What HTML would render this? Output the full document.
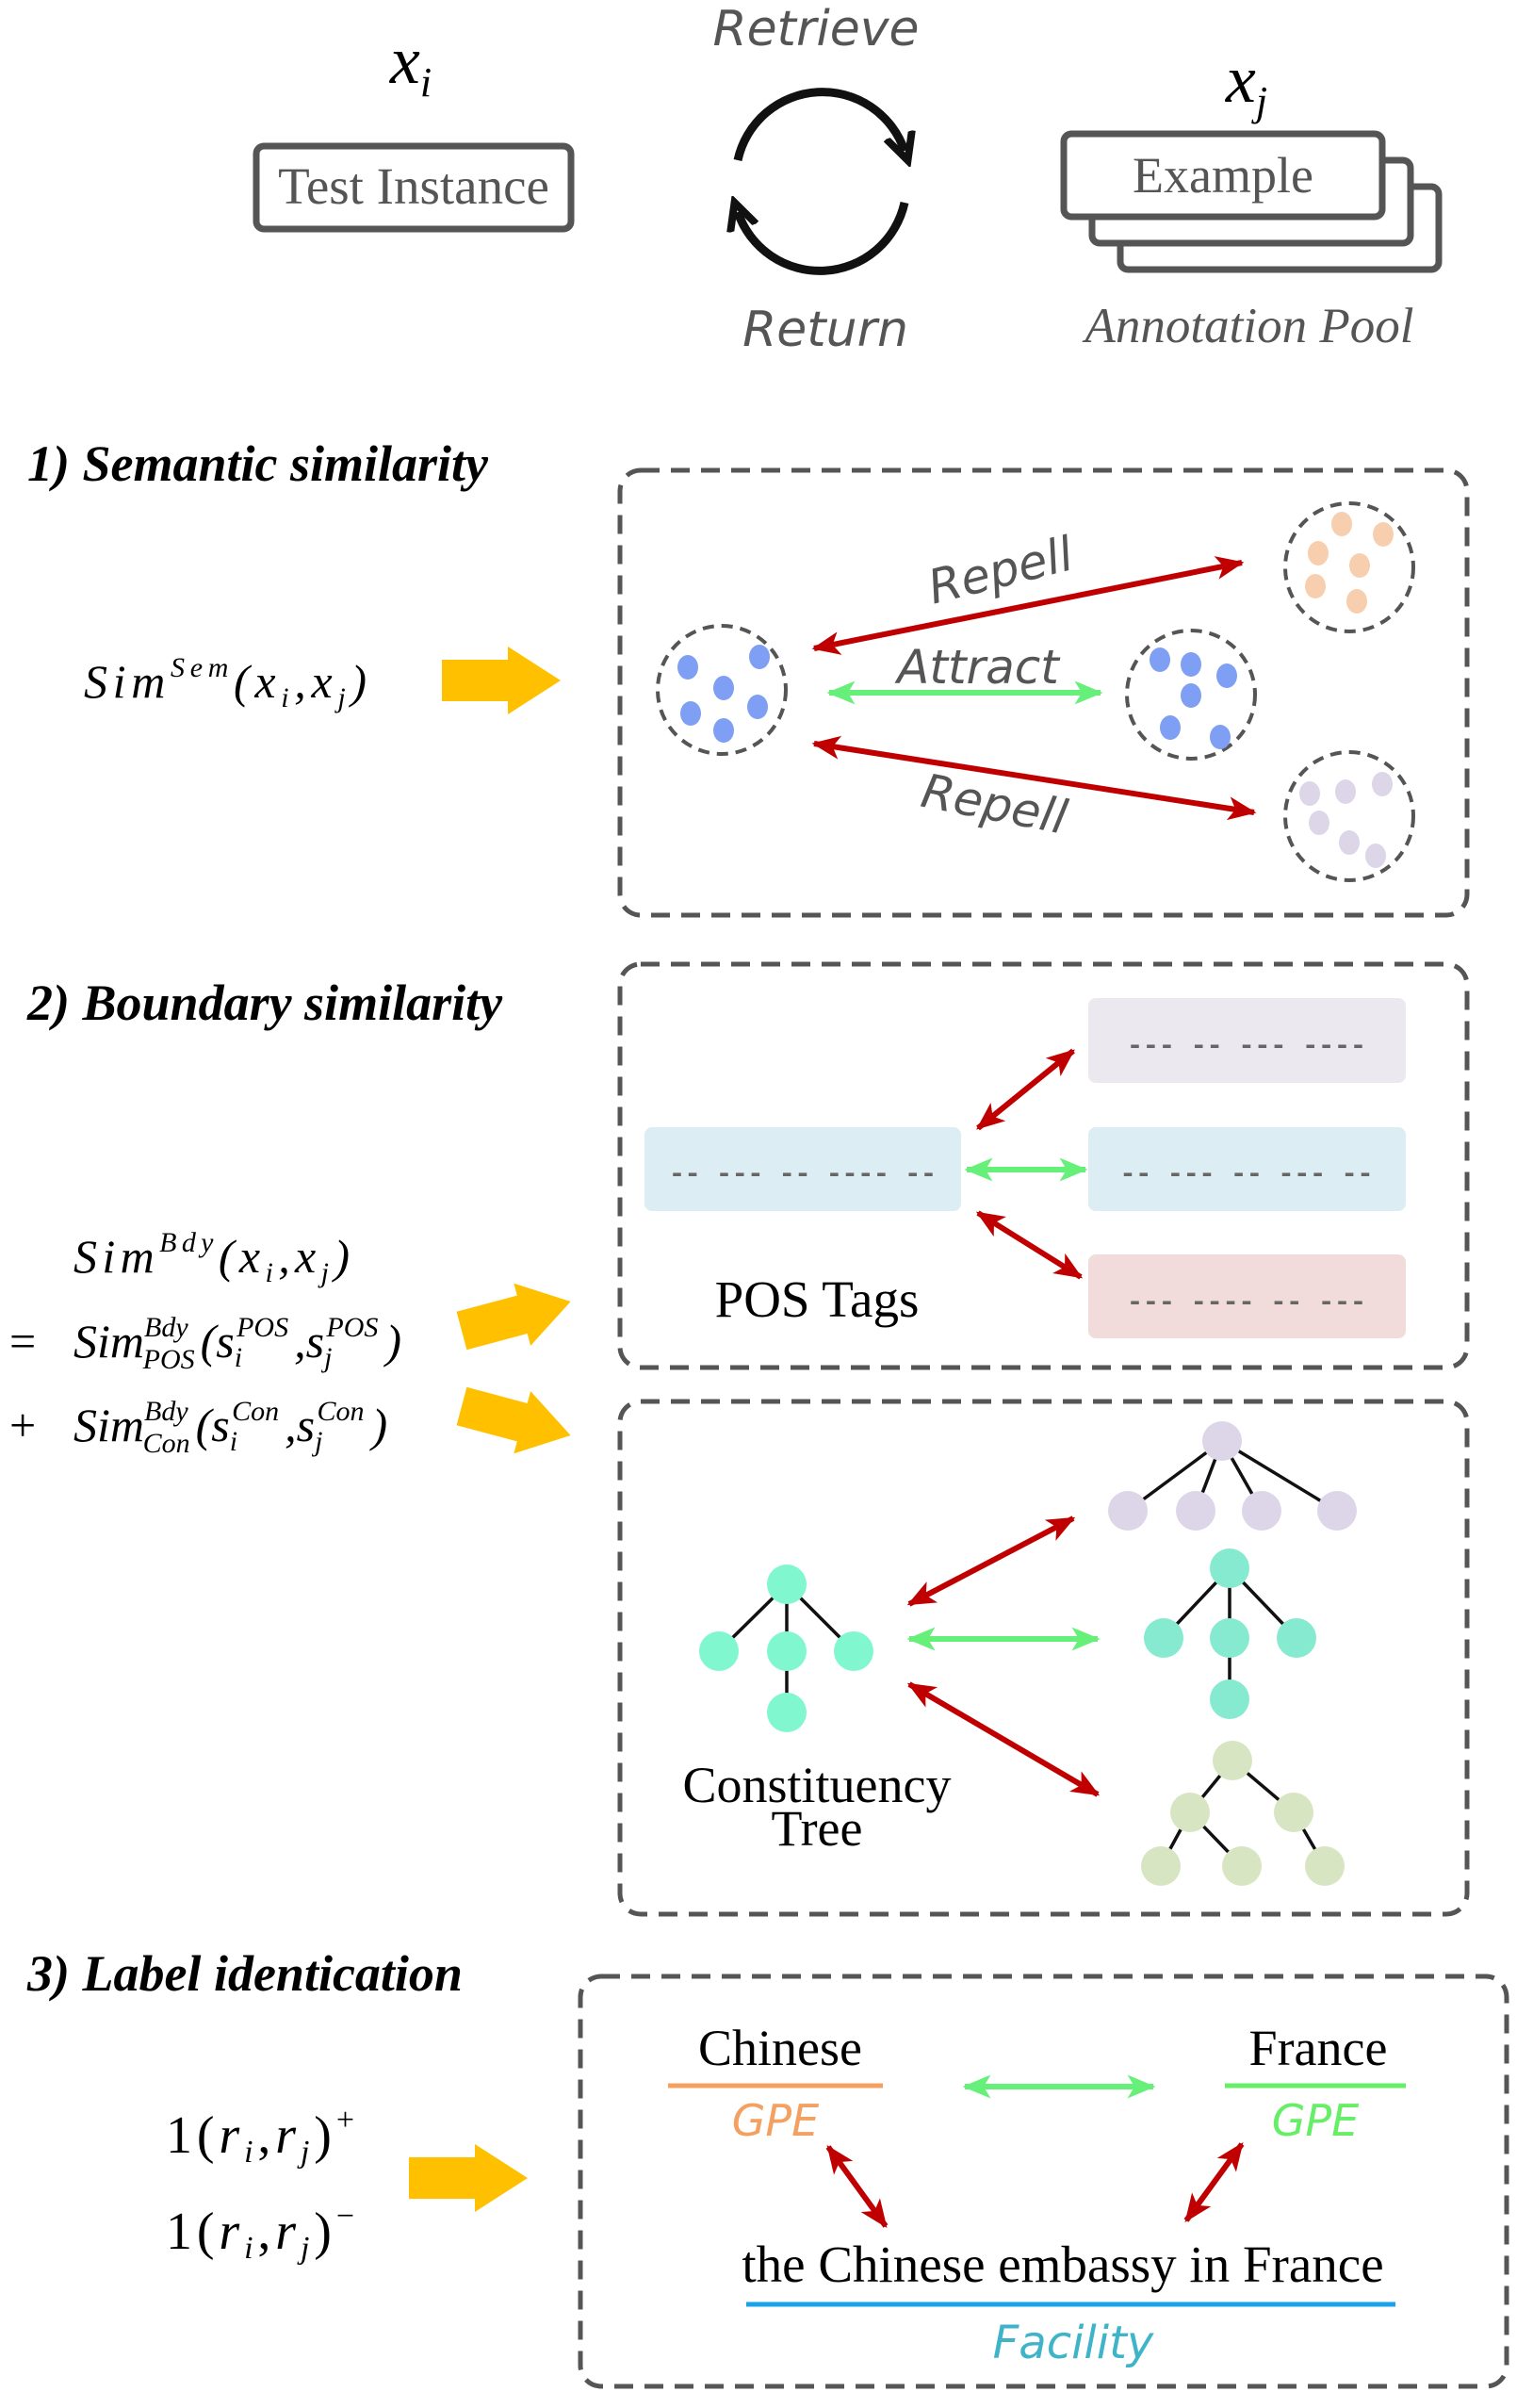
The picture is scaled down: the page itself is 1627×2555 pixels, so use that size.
<!DOCTYPE html>
<html><head><meta charset="utf-8"><style>
html,body{margin:0;padding:0;background:#fff;}
svg{display:block;}
.serif{font-family:"Liberation Serif",serif;}
.hand{font-family:"DejaVu Sans",sans-serif;font-style:oblique;}
</style></head><body>
<svg width="1627" height="2555" viewBox="0 0 1627 2555" xmlns="http://www.w3.org/2000/svg">
<defs>
<marker id="r" viewBox="0 0 12 10" refX="11" refY="5" markerWidth="5" markerHeight="5" orient="auto-start-reverse" markerUnits="strokeWidth"><path d="M0,0 L12,5 L0,10 L3,5 z" fill="#c00000"/></marker>
<marker id="g" viewBox="0 0 12 10" refX="11" refY="5" markerWidth="5" markerHeight="5" orient="auto-start-reverse" markerUnits="strokeWidth"><path d="M0,0 L12,5 L0,10 L3,5 z" fill="#66f07a"/></marker>
<marker id="k" viewBox="0 0 10 10" refX="5" refY="5" markerWidth="4" markerHeight="4" orient="auto" markerUnits="strokeWidth"><path d="M0,1 L8,5 L0,9" fill="none" stroke="#111" stroke-width="2.2"/></marker>
<path id="ya" d="M0,-22 L70,-22 L70,-36 L126,0 L70,36 L70,22 L0,22 z" fill="#ffc000"/>
</defs>

<!-- top -->
<text x="436" y="88" class="serif" font-size="72" font-style="italic" text-anchor="middle">x<tspan font-size="44" dy="14">i</tspan></text>
<rect x="272" y="155" width="334" height="88" rx="8" fill="#fff" stroke="#555" stroke-width="7"/>
<text x="439" y="216" class="serif" font-size="55" fill="#555" text-anchor="middle">Test Instance</text>

<text x="866" y="48" class="hand" font-size="52" fill="#555" text-anchor="middle">Retrieve</text>
<text x="876" y="367" class="hand" font-size="52" fill="#555" text-anchor="middle">Return</text>
<path d="M783,170 A92,92 0 0 1 960,160" fill="none" stroke="#111" stroke-width="9" marker-end="url(#k)"/>
<path d="M960,215 A92,92 0 0 1 783,225" fill="none" stroke="#111" stroke-width="9" marker-end="url(#k)"/>

<text x="1323" y="108" class="serif" font-size="72" font-style="italic" text-anchor="middle">x<tspan font-size="44" dy="14">j</tspan></text>
<rect x="1189" y="198" width="338" height="88" rx="8" fill="#fff" stroke="#555" stroke-width="7"/>
<rect x="1159" y="170" width="338" height="88" rx="8" fill="#fff" stroke="#555" stroke-width="7"/>
<rect x="1129" y="142" width="338" height="88" rx="8" fill="#fff" stroke="#555" stroke-width="7"/>
<text x="1298" y="204" class="serif" font-size="54" fill="#555" text-anchor="middle">Example</text>
<text x="1326" y="363" class="serif" font-size="53" font-style="italic" fill="#555" text-anchor="middle">Annotation Pool</text>

<!-- section 1 -->
<text x="29" y="510" class="serif" font-size="54" font-weight="bold" font-style="italic">1) Semantic similarity</text>
<rect x="658" y="499" width="899" height="472" rx="22" fill="none" stroke="#555" stroke-width="5" stroke-dasharray="20,12"/>
<text x="89" y="740" class="serif" font-size="50" font-style="italic" textLength="300" lengthAdjust="spacing">Sim<tspan font-size="30" dy="-22">Sem</tspan><tspan dy="22">(x</tspan><tspan font-size="30" dy="10">i</tspan><tspan dy="-10">,x</tspan><tspan font-size="30" dy="10">j</tspan><tspan dy="-10">)</tspan></text>
<use href="#ya" transform="translate(469,722)"/>

<g fill="none" stroke="#555" stroke-width="4" stroke-dasharray="12,8">
<circle cx="766" cy="732" r="68"/><circle cx="1264" cy="737" r="68"/><circle cx="1432" cy="602" r="68"/><circle cx="1432" cy="866" r="68"/>
</g>
<g fill="#7f9ff5"><ellipse cx="730" cy="708" rx="11" ry="13"/><ellipse cx="806" cy="697" rx="11" ry="13"/><ellipse cx="768" cy="730" rx="11" ry="13"/><ellipse cx="733" cy="757" rx="11" ry="13"/><ellipse cx="804" cy="750" rx="11" ry="13"/><ellipse cx="768" cy="775" rx="11" ry="13"/>
<ellipse cx="1231" cy="700" rx="11" ry="13"/><ellipse cx="1264" cy="705" rx="11" ry="13"/><ellipse cx="1302" cy="717" rx="11" ry="13"/><ellipse cx="1264" cy="738" rx="11" ry="13"/><ellipse cx="1242" cy="772" rx="11" ry="13"/><ellipse cx="1295" cy="782" rx="11" ry="13"/></g>
<g fill="#f8cfae"><ellipse cx="1424" cy="556" rx="11" ry="13"/><ellipse cx="1468" cy="567" rx="11" ry="13"/><ellipse cx="1399" cy="587" rx="11" ry="13"/><ellipse cx="1443" cy="600" rx="11" ry="13"/><ellipse cx="1396" cy="622" rx="11" ry="13"/><ellipse cx="1440" cy="638" rx="11" ry="13"/></g>
<g fill="#dcd6e8"><ellipse cx="1390" cy="842" rx="11" ry="13"/><ellipse cx="1428" cy="840" rx="11" ry="13"/><ellipse cx="1467" cy="832" rx="11" ry="13"/><ellipse cx="1400" cy="873" rx="11" ry="13"/><ellipse cx="1432" cy="894" rx="11" ry="13"/><ellipse cx="1460" cy="908" rx="11" ry="13"/></g>

<line x1="864" y1="688" x2="1318" y2="597" stroke="#c00000" stroke-width="6" marker-start="url(#r)" marker-end="url(#r)"/>
<line x1="880" y1="735" x2="1168" y2="735" stroke="#66f07a" stroke-width="6" marker-start="url(#g)" marker-end="url(#g)"/>
<line x1="864" y1="789" x2="1331" y2="862" stroke="#c00000" stroke-width="6" marker-start="url(#r)" marker-end="url(#r)"/>
<text transform="translate(1066,622) rotate(-14)" class="hand" font-size="50" fill="#555" text-anchor="middle">Repell</text>
<text x="1038" y="725" class="hand" font-size="50" fill="#555" text-anchor="middle">Attract</text>
<text transform="translate(1052,870) rotate(11)" class="hand" font-size="50" fill="#555" text-anchor="middle">Repell</text>

<!-- section 2 -->
<text x="29" y="1082" class="serif" font-size="54" font-weight="bold" font-style="italic">2) Boundary similarity</text>
<rect x="658" y="1023" width="899" height="428" rx="22" fill="none" stroke="#555" stroke-width="5" stroke-dasharray="20,12"/>
<rect x="684" y="1196" width="336" height="89" rx="8" fill="#dcedf3"/>
<rect x="1155" y="1059" width="337" height="90" rx="8" fill="#ebe8f0"/>
<rect x="1155" y="1196" width="337" height="89" rx="8" fill="#dcedf3"/>
<rect x="1155" y="1331" width="337" height="89" rx="8" fill="#f1dbdb"/>
<g font-family="Liberation Mono,monospace" font-size="30" font-weight="bold" fill="#666" text-anchor="middle">
<text x="852" y="1254" textLength="285" lengthAdjust="spacing">-- --- -- ---- --</text>
<text x="1323" y="1118" textLength="255" lengthAdjust="spacing">--- -- --- ----</text>
<text x="1323" y="1254" textLength="270" lengthAdjust="spacing">-- --- -- --- --</text>
<text x="1323" y="1390" textLength="255" lengthAdjust="spacing">--- ---- -- ---</text>
</g>
<line x1="1038" y1="1197" x2="1139" y2="1115" stroke="#c00000" stroke-width="6" marker-start="url(#r)" marker-end="url(#r)"/>
<line x1="1026" y1="1241" x2="1152" y2="1241" stroke="#66f07a" stroke-width="6" marker-start="url(#g)" marker-end="url(#g)"/>
<line x1="1038" y1="1287" x2="1147" y2="1355" stroke="#c00000" stroke-width="6" marker-start="url(#r)" marker-end="url(#r)"/>
<text x="867" y="1397" class="serif" font-size="55" text-anchor="middle">POS Tags</text>

<g class="serif" font-size="50" font-style="italic">
<text x="78" y="1350" textLength="293" lengthAdjust="spacing">Sim<tspan font-size="30" dy="-22">Bdy</tspan><tspan dy="22">(x</tspan><tspan font-size="30" dy="10">i</tspan><tspan dy="-10">,x</tspan><tspan font-size="30" dy="10">j</tspan><tspan dy="-10">)</tspan></text>
<text x="78" y="1440">Sim<tspan font-size="30" dy="-22">Bdy</tspan><tspan font-size="30" dx="-48" dy="34">POS</tspan><tspan dx="6" dy="-12">(s</tspan><tspan font-size="30" dy="10">i</tspan><tspan font-size="30" dx="-6" dy="-32">POS</tspan><tspan dx="6" dy="22">,s</tspan><tspan font-size="30" dy="10">j</tspan><tspan font-size="30" dx="-6" dy="-32">POS</tspan><tspan dx="8" dy="22">)</tspan></text>
<text x="78" y="1529">Sim<tspan font-size="30" dy="-22">Bdy</tspan><tspan font-size="30" dx="-48" dy="34">Con</tspan><tspan dx="6" dy="-12">(s</tspan><tspan font-size="30" dy="10">i</tspan><tspan font-size="30" dx="-6" dy="-32">Con</tspan><tspan dx="6" dy="22">,s</tspan><tspan font-size="30" dy="10">j</tspan><tspan font-size="30" dx="-6" dy="-32">Con</tspan><tspan dx="8" dy="22">)</tspan></text>
</g>
<text x="10" y="1440" class="serif" font-size="50">=</text>
<text x="10" y="1529" class="serif" font-size="50">+</text>
<use href="#ya" transform="translate(490,1412) rotate(-15) scale(0.95)"/>
<use href="#ya" transform="translate(490,1492) rotate(15) scale(0.95)"/>

<!-- constituency -->
<rect x="658" y="1487" width="899" height="544" rx="22" fill="none" stroke="#555" stroke-width="5" stroke-dasharray="20,12"/>
<g stroke="#111" stroke-width="3.5">
<line x1="835" y1="1681" x2="763" y2="1752"/><line x1="835" y1="1681" x2="835" y2="1817"/><line x1="835" y1="1681" x2="906" y2="1752"/>
<line x1="1297" y1="1529" x2="1197" y2="1603"/><line x1="1297" y1="1529" x2="1269" y2="1603"/><line x1="1297" y1="1529" x2="1339" y2="1603"/><line x1="1297" y1="1529" x2="1419" y2="1603"/>
<line x1="1305" y1="1664" x2="1235" y2="1738"/><line x1="1305" y1="1664" x2="1305" y2="1803"/><line x1="1305" y1="1664" x2="1376" y2="1738"/>
<line x1="1308" y1="1868" x2="1263" y2="1923"/><line x1="1308" y1="1868" x2="1373" y2="1923"/><line x1="1263" y1="1923" x2="1232" y2="1980"/><line x1="1263" y1="1923" x2="1318" y2="1980"/><line x1="1373" y1="1923" x2="1406" y2="1980"/>
</g>
<g fill="#80f7cf"><circle cx="835" cy="1681" r="21"/><circle cx="763" cy="1752" r="21"/><circle cx="835" cy="1752" r="21"/><circle cx="906" cy="1752" r="21"/><circle cx="835" cy="1817" r="21"/></g>
<g fill="#dcd6e8"><circle cx="1297" cy="1529" r="21"/><circle cx="1197" cy="1603" r="21"/><circle cx="1269" cy="1603" r="21"/><circle cx="1339" cy="1603" r="21"/><circle cx="1419" cy="1603" r="21"/></g>
<g fill="#86ead0"><circle cx="1305" cy="1664" r="21"/><circle cx="1235" cy="1738" r="21"/><circle cx="1305" cy="1738" r="21"/><circle cx="1376" cy="1738" r="21"/><circle cx="1305" cy="1803" r="21"/></g>
<g fill="#d8e5c2"><circle cx="1308" cy="1868" r="21"/><circle cx="1263" cy="1923" r="21"/><circle cx="1373" cy="1923" r="21"/><circle cx="1232" cy="1980" r="21"/><circle cx="1318" cy="1980" r="21"/><circle cx="1406" cy="1980" r="21"/></g>
<line x1="965" y1="1702" x2="1139" y2="1611" stroke="#c00000" stroke-width="6" marker-start="url(#r)" marker-end="url(#r)"/>
<line x1="965" y1="1739" x2="1165" y2="1739" stroke="#66f07a" stroke-width="6" marker-start="url(#g)" marker-end="url(#g)"/>
<line x1="965" y1="1787" x2="1165" y2="1904" stroke="#c00000" stroke-width="6" marker-start="url(#r)" marker-end="url(#r)"/>
<text x="867" y="1912" class="serif" font-size="54" text-anchor="middle">Constituency</text>
<text x="867" y="1958" class="serif" font-size="54" text-anchor="middle">Tree</text>

<!-- section 3 -->
<text x="29" y="2112" class="serif" font-size="54" font-weight="bold" font-style="italic">3) Label identication</text>
<rect x="616" y="2097" width="983" height="435" rx="22" fill="none" stroke="#555" stroke-width="5" stroke-dasharray="20,12"/>
<g class="serif" font-size="56">
<text x="176" y="2284" textLength="200" lengthAdjust="spacing">1(<tspan font-style="italic">r</tspan><tspan font-size="34" font-style="italic" dy="10">i</tspan><tspan dy="-10">,</tspan><tspan font-style="italic">r</tspan><tspan font-size="34" font-style="italic" dy="10">j</tspan><tspan dy="-10">)</tspan><tspan font-size="34" dy="-24">+</tspan></text>
<text x="176" y="2386" textLength="200" lengthAdjust="spacing">1(<tspan font-style="italic">r</tspan><tspan font-size="34" font-style="italic" dy="10">i</tspan><tspan dy="-10">,</tspan><tspan font-style="italic">r</tspan><tspan font-size="34" font-style="italic" dy="10">j</tspan><tspan dy="-10">)</tspan><tspan font-size="34" dy="-24">−</tspan></text>
</g>
<use href="#ya" transform="translate(434,2311)"/>
<text x="828" y="2191" class="serif" font-size="54" text-anchor="middle">Chinese</text>
<line x1="709" y1="2213" x2="937" y2="2213" stroke="#f4a060" stroke-width="5"/>
<text x="823" y="2266" class="hand" font-size="46" fill="#f4a060" text-anchor="middle">GPE</text>
<text x="1399" y="2191" class="serif" font-size="54" text-anchor="middle">France</text>
<line x1="1300" y1="2213" x2="1492" y2="2213" stroke="#66ee66" stroke-width="5"/>
<text x="1396" y="2266" class="hand" font-size="46" fill="#66ee66" text-anchor="middle">GPE</text>
<line x1="1024" y1="2214" x2="1224" y2="2214" stroke="#66f07a" stroke-width="6" marker-start="url(#g)" marker-end="url(#g)"/>
<line x1="879" y1="2278" x2="940" y2="2362" stroke="#c00000" stroke-width="6" marker-start="url(#r)" marker-end="url(#r)"/>
<line x1="1318" y1="2275" x2="1259" y2="2356" stroke="#c00000" stroke-width="6" marker-start="url(#r)" marker-end="url(#r)"/>
<text x="1128" y="2421" class="serif" font-size="55" text-anchor="middle">the Chinese embassy in France</text>
<line x1="792" y1="2445" x2="1481" y2="2445" stroke="#1aa3e8" stroke-width="5"/>
<text x="1139" y="2502" class="hand" font-size="48" fill="#3fb3c8" text-anchor="middle">Facility</text>
</svg>
</body></html>
